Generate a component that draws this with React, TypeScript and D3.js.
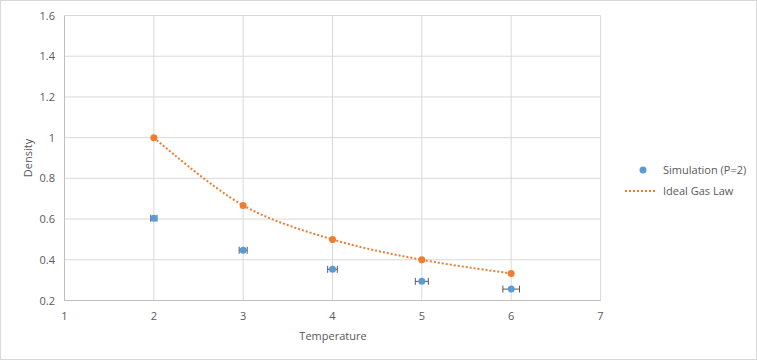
import React from "react";
import * as d3 from "d3";

const temps = [2, 3, 4, 5, 6];
const simDensity = [0.604, 0.447, 0.353, 0.294, 0.256];
const simTempErr = [0.035, 0.045, 0.054, 0.073, 0.093];
const idealDensity = [1.0, 0.667, 0.5, 0.4, 0.333];
const xTicks = [1, 2, 3, 4, 5, 6, 7];
const yTicks = [0.2, 0.4, 0.6, 0.8, 1, 1.2, 1.4, 1.6];

const W = 757;
const H = 360;
const blue = "#5B9BD5";
const orange = "#ED7D31";
const font = "'Open Sans', 'Liberation Sans', sans-serif";

export default function App() {
  const x = d3.scaleLinear().domain([1, 7]).range([64.5, 600.5]);
  const y = d3.scaleLinear().domain([0.2, 1.6]).range([300.5, 15.5]);

  const idealLine = d3
    .line<number>()
    .x((d, i) => x(temps[i]))
    .y((d) => y(d))
    .curve(d3.curveCatmullRom.alpha(0.5));

  return (
    <svg width={W} height={H} style={{ position: "absolute", left: 0, top: 0 }} fontFamily={font}>
      <rect x={0.5} y={0.5} width={W - 1} height={H - 1} fill="#fff" stroke="#d9d9d9" />
      {/* gridlines */}
      {yTicks.map((t) => (
        <line key={"gy" + t} x1={x(1)} x2={x(7)} y1={y(t)} y2={y(t)} stroke="#d9d9d9" />
      ))}
      {xTicks.map((t) => (
        <line key={"gx" + t} x1={x(t)} x2={x(t)} y1={y(0.2)} y2={y(1.6)} stroke={t === 1 ? "#bfbfbf" : "#d9d9d9"} />
      ))}
      <line x1={x(1)} x2={x(7)} y1={y(0.2)} y2={y(0.2)} stroke="#bfbfbf" />
      {/* tick labels */}
      {yTicks.map((t) => (
        <text key={"ty" + t} x={55} y={y(t) + 4} textAnchor="end" fontSize={11} fill="#595959">
          {d3.format("~g")(t)}
        </text>
      ))}
      {xTicks.map((t) => (
        <text key={"tx" + t} x={x(t)} y={320} textAnchor="middle" fontSize={11} fill="#595959">
          {t}
        </text>
      ))}
      <text x={333} y={340} textAnchor="middle" fontSize={11} fill="#595959">Temperature</text>
      <text transform={`translate(32,158) rotate(-90)`} textAnchor="middle" fontSize={11} fill="#595959">Density</text>
      {/* ideal gas */}
      <path d={idealLine(idealDensity) || ""} fill="none" stroke={orange} strokeWidth={2} strokeDasharray="2,2" />
      {idealDensity.map((d, i) => (
        <circle key={"io" + i} cx={x(temps[i])} cy={y(d)} r={3.5} fill={orange} />
      ))}
      {/* simulation with error bars */}
      {simDensity.map((d, i) => {
        const cy = y(d);
        const x0 = x(temps[i] - simTempErr[i]);
        const x1 = x(temps[i] + simTempErr[i]);
        return (
          <g key={"s" + i}>
            <line x1={x0} x2={x1} y1={cy} y2={cy} stroke="#595959" strokeWidth={1} />
            <line x1={x0} x2={x0} y1={cy - 3.5} y2={cy + 3.5} stroke="#595959" strokeWidth={1} />
            <line x1={x1} x2={x1} y1={cy - 3.5} y2={cy + 3.5} stroke="#595959" strokeWidth={1} />
            <circle cx={x(temps[i])} cy={cy} r={3.5} fill={blue} />
          </g>
        );
      })}
      {/* legend */}
      <circle cx={643} cy={170} r={3.5} fill={blue} />
      <text x={663} y={174} fontSize={11} fill="#595959">Simulation (P=2)</text>
      <line x1={625} x2={657} y1={191} y2={191} stroke={orange} strokeWidth={2} strokeDasharray="2,2" />
      <text x={663} y={195} fontSize={11} fill="#595959">Ideal Gas Law</text>
    </svg>
  );
}
